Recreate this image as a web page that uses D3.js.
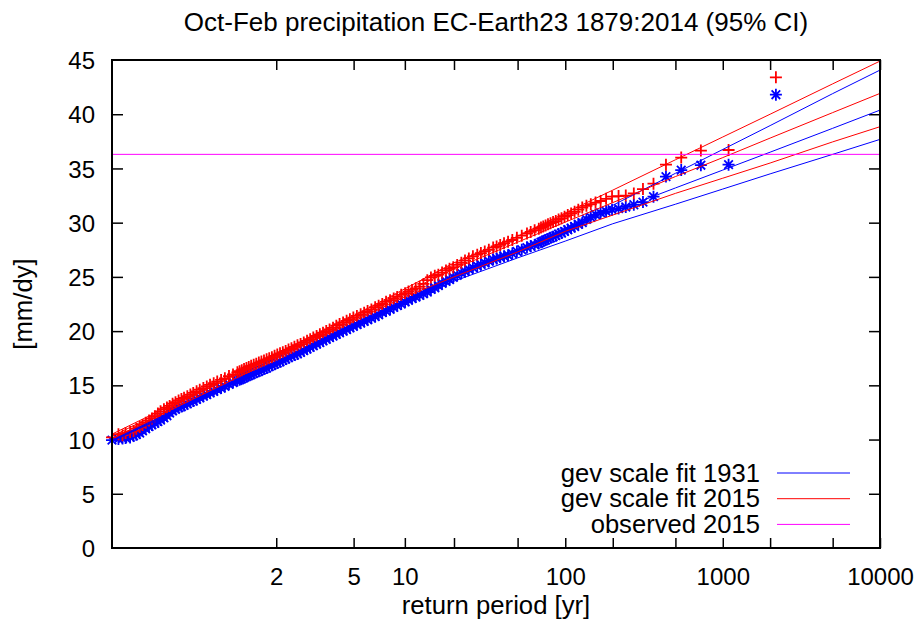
<!DOCTYPE html>
<html>
<head>
<meta charset="utf-8">
<script src="https://cdn.jsdelivr.net/npm/d3@7/dist/d3.min.js"></script>
<style>
  body { margin: 0; background: #fff; }
  svg { display: block; font-family: "Liberation Sans", Arial, sans-serif; }
  .tick line { stroke: #000; stroke-width: 1.5; }
  .tick text { font-size: 24px; fill: #000; }
</style>
</head>
<body>
<svg id="chart" width="918" height="625"></svg>
<script>
// sorted ensemble maxima, plotted against return period (dense part sampled, top ranks one by one)
var returnPeriods = [
    1.00046, 1.00092, 1.00138, 1.00184, 1.00276, 1.00369, 1.00461, 1.00601, 1.0074, 1.00927,
    1.01162, 1.01397, 1.01681, 1.02015, 1.02351, 1.02834, 1.03322, 1.03815, 1.04412, 1.05068,
    1.05834, 1.06611, 1.074, 1.0847, 1.09562, 1.10676, 1.12101, 1.13563, 1.15368, 1.17232,
    1.19157, 1.21484, 1.23904, 1.26791, 1.29815, 1.33395, 1.37177, 1.4164, 1.43981, 1.46402,
    1.4911, 1.52025, 1.54947, 1.58097, 1.61618, 1.653, 1.69153, 1.7319, 1.77425, 1.81872,
    1.86547, 1.91469, 1.96658, 2.02136, 2.07927, 2.14061, 2.20567, 2.27482, 2.34844, 2.42698,
    2.51096, 2.60096, 2.69765, 2.8018, 2.90654, 3.01524, 3.13689, 3.26387, 3.39097, 3.52836,
    3.67736, 3.83951, 4.00184, 4.1705, 4.36273, 4.56394, 4.76368, 4.98169, 5.22062, 5.48363,
    5.74406, 6.01381, 6.32849, 6.65749, 6.97756, 7.32997, 7.71986, 8.15356, 8.57087, 8.99587,
    9.50655, 10.032, 10.517, 11.051, 11.642, 12.299, 12.958, 13.692, 14.417, 15.224,
    16.007, 16.876, 17.844, 18.767, 19.791, 20.933, 22.214, 23.409, 24.739, 26.229,
    27.91, 29.419, 31.1, 32.985, 35.113, 36.898, 38.875, 41.076,
    43.54, 46.32, 49.48, 53.1, 57.29, 60.47, 64.03, 68.03, 70.23, 72.57,
    75.07, 77.75, 80.63, 83.73, 87.08, 90.71, 94.65, 98.95, 103.7, 108.9,
    114.6, 120.9, 128.1, 136.1, 145.1, 155.5, 167.5, 181.4, 197.9, 217.7,
    241.9, 272.1, 311.0, 362.8, 435.4, 544.3, 725.7, 1088.5, 2177
];

var obs2015 = [
    10.2, 10.5, 10.4, 10.6, 10.7, 10.8, 11.0, 11.15, 11.35, 11.55,
    11.75, 11.95, 12.15, 12.4, 12.6, 12.8, 12.95, 13.1, 13.3, 13.45,
    13.6, 13.75, 13.85, 14.0, 14.15, 14.3, 14.45, 14.6, 14.75, 14.9,
    15.05, 15.2, 15.35, 15.5, 15.65, 15.85, 16.0, 16.2, 16.3, 16.4,
    16.5, 16.6, 16.7, 16.8, 16.9, 17.0, 17.1, 17.2, 17.3, 17.4,
    17.5, 17.6, 17.72, 17.85, 17.95, 18.05, 18.17, 18.3, 18.42, 18.55,
    18.7, 18.8, 18.95, 19.1, 19.25, 19.4, 19.55, 19.7, 19.85, 20.0,
    20.15, 20.3, 20.5, 20.65, 20.8, 20.95, 21.1, 21.25, 21.4, 21.55,
    21.7, 21.85, 22.0, 22.2, 22.35, 22.5, 22.7, 22.85, 23.0, 23.15,
    23.35, 23.5, 23.65, 23.8, 23.95, 24.1, 24.35, 24.7, 24.95, 25.1,
    25.2, 25.4, 25.6, 25.75, 25.9, 26.1, 26.3, 26.5, 26.7, 26.9,
    27.05, 27.2, 27.35, 27.5, 27.7, 27.8, 27.95, 28.1,
    28.25, 28.4, 28.6, 28.8, 29.0, 29.15, 29.3, 29.45, 29.55, 29.65,
    29.75, 29.85, 29.95, 30.05, 30.15, 30.3, 30.4, 30.55, 30.7, 30.85,
    31.0, 31.2, 31.4, 31.55, 31.7, 31.85, 32.0, 32.2, 32.4, 32.45,
    32.5, 32.7, 33.1, 33.6, 35.35, 36.0, 36.65, 36.7, 43.4
];

var obs1931 = [
    9.95, 10.05, 10.1, 10.15, 10.2, 10.35, 10.45, 10.6, 10.8, 11.0,
    11.2, 11.35, 11.5, 11.65, 11.8, 12.0, 12.2, 12.45, 12.65, 12.8,
    12.95, 13.05, 13.15, 13.3, 13.45, 13.55, 13.7, 13.85, 14.0, 14.15,
    14.3, 14.45, 14.6, 14.75, 14.9, 15.1, 15.25, 15.45, 15.52, 15.6,
    15.7, 15.8, 15.9, 16.0, 16.1, 16.2, 16.3, 16.4, 16.5, 16.6,
    16.72, 16.85, 16.95, 17.05, 17.17, 17.3, 17.42, 17.55, 17.68, 17.8,
    17.9, 18.05, 18.2, 18.35, 18.5, 18.65, 18.8, 18.95, 19.1, 19.25,
    19.4, 19.55, 19.7, 19.85, 20.0, 20.15, 20.3, 20.45, 20.6, 20.75,
    20.9, 21.05, 21.2, 21.35, 21.5, 21.7, 21.85, 22.0, 22.2, 22.35,
    22.5, 22.7, 22.85, 23.0, 23.15, 23.3, 23.45, 23.6, 23.85, 24.0,
    24.2, 24.4, 24.6, 24.75, 24.95, 25.15, 25.35, 25.5, 25.7, 25.85,
    26.0, 26.15, 26.3, 26.45, 26.6, 26.7, 26.8, 26.9,
    27.0, 27.15, 27.35, 27.5, 27.7, 27.85, 27.95, 28.1, 28.2, 28.3,
    28.4, 28.5, 28.6, 28.7, 28.8, 28.95, 29.05, 29.2, 29.35, 29.5,
    29.65, 29.85, 30.0, 30.3, 30.5, 30.75, 30.9, 31.05, 31.2, 31.3,
    31.45, 31.65, 31.9, 32.4, 34.25, 34.85, 35.3, 35.35, 41.8
];

// gev fits with 95% CI
var fitPeriods = [1.00046, 1.5, 2, 5, 10, 20, 50, 100, 200, 500, 1000, 2000, 5000, 10000];
var fit1931Low  = [9.85, 15.45, 16.8, 20.3, 22.5, 24.6, 26.75, 28.3, 29.9, 31.7, 33.1, 34.5, 36.3, 37.68];
var fit1931Mid  = [9.9, 15.6, 16.95, 20.5, 22.75, 24.9, 27.45, 29.35, 31.0, 33.2, 34.85, 36.5, 38.7, 40.38];
var fit1931High = [9.95, 15.8, 17.15, 20.7, 22.85, 25.1, 27.6, 29.5, 31.6, 34.55, 36.75, 38.95, 41.9, 44.07];
var fit2015Low  = [10.1, 16.05, 17.45, 20.9, 23.15, 25.0, 27.3, 29.2, 30.7, 32.7, 34.1, 35.5, 37.45, 38.85];
var fit2015Mid  = [10.3, 16.35, 17.75, 21.15, 23.55, 25.75, 28.2, 30.05, 31.85, 34.25, 36.0, 37.8, 40.15, 41.92];
var fit2015High = [10.5, 16.5, 17.9, 21.4, 23.9, 26.3, 28.75, 30.9, 33.0, 35.8, 37.9, 40.0, 42.8, 44.9];

var observed2015 = 36.3;

var xTickPeriods = [2, 5, 10, 20, 50, 100, 200, 500, 1000, 2000, 5000, 10000];
var xTickLabels  = ["2", "5", "10", "", "", "100", "", "", "1000", "", "", "10000"];
var yTicks = [0, 5, 10, 15, 20, 25, 30, 35, 40, 45];

var legendLabels = ["gev scale fit 1931", "gev scale fit 2015", "observed 2015"];
var blue = "#0000ff", red = "#ff0000", magenta = "#ff00ff";

/** Gumbel reduced variate of a return period */
var gumbel = function (T) {
    return -Math.log(-Math.log(1 - 1 / T));
};

window.onload = function () {
    var svg = d3.select("#chart"),
        left = 112, right = 880, top = 60, bottom = 548;

    var x = d3.scaleLinear()
        .domain([gumbel(returnPeriods[0]), gumbel(10000)])
        .range([left, right]);
    var y = d3.scaleLinear().domain([0, 45]).range([bottom, top]);

    var px = function (T) { return x(gumbel(T)); };

    /** axes, ticks point inwards and are mirrored */
    var xVals = xTickPeriods.map(gumbel);
    svg.append("g")
        .attr("transform", "translate(0," + bottom + ")")
        .call(d3.axisBottom(x).tickValues(xVals).tickSizeInner(-10).tickSizeOuter(0).tickPadding(20)
            .tickFormat(function (d, i) { return xTickLabels[i]; }))
        .call(function (g) { g.select(".domain").remove(); });
    svg.append("g")
        .attr("transform", "translate(0," + top + ")")
        .call(d3.axisTop(x).tickValues(xVals).tickSizeInner(-10).tickSizeOuter(0).tickFormat(""))
        .call(function (g) { g.select(".domain").remove(); });
    svg.append("g")
        .attr("transform", "translate(" + left + ",0)")
        .call(d3.axisLeft(y).tickValues(yTicks).tickSizeInner(-11).tickSizeOuter(0).tickPadding(17))
        .call(function (g) { g.select(".domain").remove(); g.selectAll("text").attr("dy", "0.36em"); });
    svg.append("g")
        .attr("transform", "translate(" + right + ",0)")
        .call(d3.axisRight(y).tickValues(yTicks).tickSizeInner(-11).tickSizeOuter(0).tickFormat(""))
        .call(function (g) { g.select(".domain").remove(); });

    svg.selectAll(".tick").filter(function (d) { return d === 0 || d === 45; }).select("line").remove();

    /** data points */
    var plusPath = "M-6,0H6M0,-6V6",
        starPath = plusPath + "M-4.3,-4.3L4.3,4.3M-4.3,4.3L4.3,-4.3";

    var plot = svg.append("g");

    plot.selectAll("path.p1931")
        .data(returnPeriods)
        .enter().append("path")
        .attr("class", "p1931")
        .attr("d", starPath)
        .attr("transform", function (T, i) { return "translate(" + px(T) + "," + y(obs1931[i]) + ")"; })
        .attr("fill", "none")
        .attr("stroke", blue)
        .attr("stroke-width", 1.8);

    plot.selectAll("path.p2015")
        .data(returnPeriods)
        .enter().append("path")
        .attr("class", "p2015")
        .attr("d", plusPath)
        .attr("transform", function (T, i) { return "translate(" + px(T) + "," + y(obs2015[i]) + ")"; })
        .attr("fill", "none")
        .attr("stroke", red)
        .attr("stroke-width", 1.8);

    /** fit lines */
    var line = d3.line()
        .x(function (d) { return px(d[0]); })
        .y(function (d) { return y(d[1]); });

    var fits = [
        [fit1931Low, blue], [fit1931Mid, blue], [fit1931High, blue],
        [fit2015Low, red], [fit2015Mid, red], [fit2015High, red]
    ];
    fits.forEach(function (f) {
        plot.append("path")
            .datum(d3.zip(fitPeriods, f[0]))
            .attr("d", line)
            .attr("fill", "none")
            .attr("stroke", f[1])
            .attr("stroke-width", 1);
    });

    plot.append("line")
        .attr("x1", left).attr("x2", right)
        .attr("y1", y(observed2015)).attr("y2", y(observed2015))
        .attr("stroke", magenta)
        .attr("stroke-width", 1);

    /** border */
    svg.append("rect")
        .attr("x", left).attr("y", top)
        .attr("width", right - left).attr("height", bottom - top)
        .attr("fill", "none")
        .attr("stroke", "#000")
        .attr("stroke-width", 2);

    /** legend */
    var legendColors = [blue, red, magenta];
    legendLabels.forEach(function (label, i) {
        var ly = 473 + i * 25.7;
        svg.append("text")
            .attr("x", 760).attr("y", ly + 8.5)
            .attr("text-anchor", "end")
            .attr("font-size", 25.6)
            .text(label);
        svg.append("line")
            .attr("x1", 777).attr("x2", 850)
            .attr("y1", ly).attr("y2", ly)
            .attr("stroke", legendColors[i])
            .attr("stroke-width", 1);
    });

    /** titles */
    svg.append("text")
        .attr("x", 496).attr("y", 31)
        .attr("text-anchor", "middle")
        .attr("font-size", 26)
        .text("Oct-Feb precipitation EC-Earth23 1879:2014 (95% CI)");

    svg.append("text")
        .attr("x", 496).attr("y", 614)
        .attr("text-anchor", "middle")
        .attr("font-size", 25.7)
        .text("return period [yr]");

    svg.append("text")
        .attr("transform", "translate(32,304) rotate(-90)")
        .attr("text-anchor", "middle")
        .attr("font-size", 25.7)
        .text("[mm/dy]");
};
</script>
</body>
</html>
